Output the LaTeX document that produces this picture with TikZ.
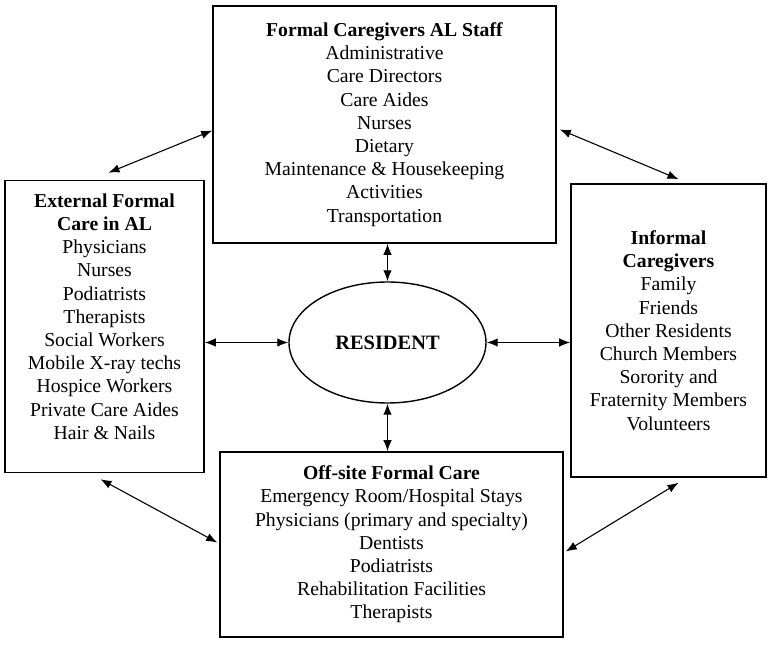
\documentclass[tikz,border=0pt]{standalone}
\usepackage{fontspec}
\setmainfont{Liberation Serif}
\usetikzlibrary{shapes.geometric,arrows.meta}

\begin{document}
\begin{tikzpicture}[auto, node distance=2cm, >={Latex[length=11pt,width=8.5pt]}, x=1pt, y=1pt]
        % Stili
        \tikzstyle{block} = [draw, rectangle, line width=1.6pt, align=center, inner sep=0pt, font=\fontsize{19.7}{23.2}\selectfont]
        \tikzstyle{res} = [draw, ellipse, line width=1.4pt, minimum width=197pt, minimum height=121pt, inner sep=0pt, font=\fontsize{20.4}{23}\selectfont\bfseries]
        \tikzstyle{link} = [<->, line width=1.1pt]

        \useasboundingbox (-387.5,-302.5) rectangle (384.5,342.5);

        % --- Residente al centro ---
        \node [res] (resident) {RESIDENT};

        % --- Personale AL (sopra) ---
        \node [block, above of=resident, node distance=218pt, xshift=-3pt, minimum width=343pt, minimum height=237pt] (staff)
            {\textbf{Formal Caregivers AL Staff}\\Administrative\\Care Directors\\Care Aides\\Nurses\\Dietary\\Maintenance \& Housekeeping\\Activities\\Transportation};

        % --- Cure formali esterne (sinistra) ---
        \node [block, left of=resident, node distance=283pt, yshift=16pt, minimum width=199pt, minimum height=292pt] (external)
            {\textbf{External Formal}\\\textbf{Care in AL}\\Physicians\\Nurses\\Podiatrists\\Therapists\\Social Workers\\Mobile X-ray techs\\Hospice Workers\\Private Care Aides\\Hair \& Nails\\[-3pt]};

        % --- Caregiver informali (destra) ---
        \node [block, right of=resident, node distance=281pt, yshift=12pt, minimum width=195pt, minimum height=293pt] (informal)
            {\textbf{Informal}\\\textbf{Caregivers}\\Family\\Friends\\Other Residents\\Church Members\\Sorority and\\Fraternity Members\\Volunteers};

        % --- Cure formali fuori sede (sotto) ---
        \node [block, below of=resident, node distance=202pt, xshift=4pt, minimum width=343pt, minimum height=185pt] (offsite)
            {\textbf{Off-site Formal Care}\\Emergency Room/Hospital Stays\\Physicians (primary and specialty)\\Dentists\\Podiatrists\\Rehabilitation Facilities\\Therapists};

        % --- Collegamenti ---
        % Residente <-> riquadri
        \draw [link] (resident.north |- staff.south) -- (resident.north);
        \draw [link] (resident.south) -- (resident.south |- offsite.north);
        \draw [link] (external.east |- resident.west) -- (resident.west);
        \draw [link] (resident.east) -- (resident.east -| informal.west);

        % Riquadri tra loro (diagonali)
        \draw [link] ([xshift=4pt, yshift=7pt]external.north) -- ([yshift=-6pt]staff.west);
        \draw [link] ([xshift=3pt, yshift=-5pt]staff.east) -- ([xshift=10pt, yshift=4pt]informal.north);
        \draw [link] ([xshift=-4pt, yshift=-6pt]external.south) -- ([xshift=-2pt, yshift=2pt]offsite.west);
        \draw [link] ([xshift=2pt, yshift=-7pt]offsite.east) -- ([xshift=10pt, yshift=-5pt]informal.south);

    \end{tikzpicture}
\end{document}
